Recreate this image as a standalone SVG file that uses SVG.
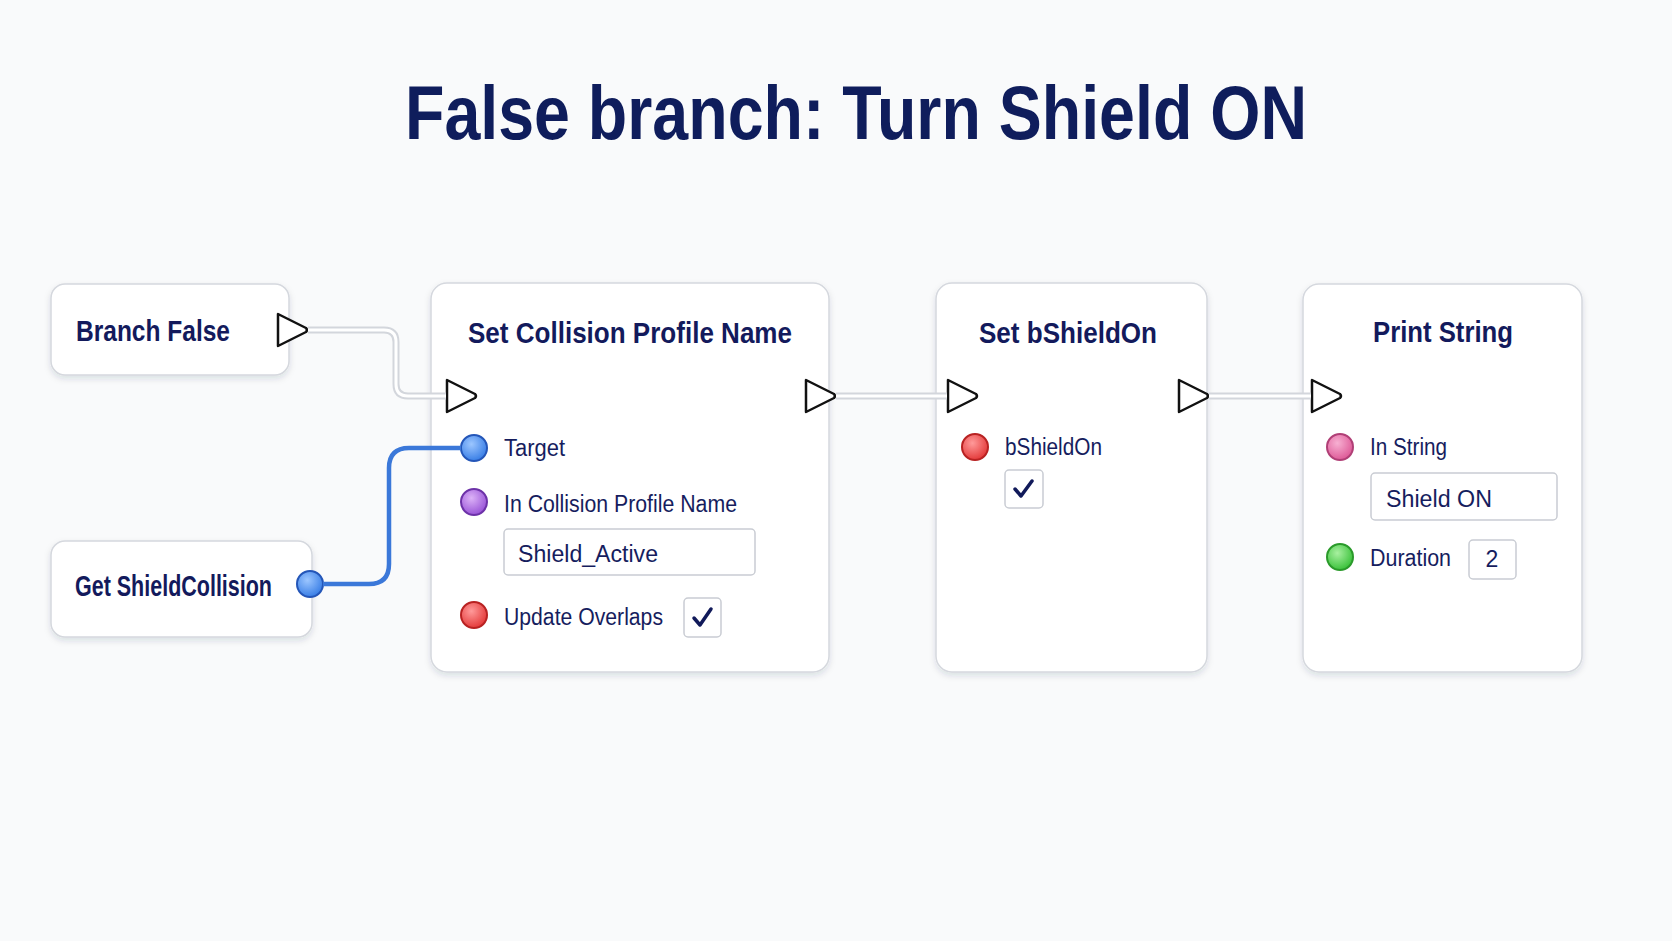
<svg xmlns="http://www.w3.org/2000/svg" width="1672" height="941" viewBox="0 0 1672 941">
<defs>
<style>
.bg{fill:#f9fafb}
.node{fill:#ffffff;stroke:#d5d8de;stroke-width:1.5}
.title{font-family:"Liberation Sans",Arial,sans-serif;font-weight:bold;fill:#0f1d5c}
.ntitle{font-family:"Liberation Sans",Arial,sans-serif;font-weight:bold;font-size:29px;fill:#131a5c}
.lbl{font-family:"Liberation Sans",Arial,sans-serif;font-size:23px;fill:#161d5e}
.field{fill:#ffffff;stroke:#c9ccd3;stroke-width:1.5}
.exec{fill:#ffffff;stroke:#111111;stroke-width:2.5;stroke-linejoin:round}
.wireo{fill:none;stroke:#d3d6dc;stroke-width:7;stroke-linecap:butt;stroke-linejoin:round}
.wirei{fill:none;stroke:#ffffff;stroke-width:3;stroke-linecap:butt;stroke-linejoin:round}
.bwire{fill:none;stroke:#3b78d9;stroke-width:4.5;stroke-linecap:butt;stroke-linejoin:round}
.check{fill:none;stroke:#111a5a;stroke-width:3.5;stroke-linecap:round;stroke-linejoin:round}
</style>
<filter id="sh" x="-10%" y="-10%" width="120%" height="125%">
<feDropShadow dx="0" dy="3" stdDeviation="3" flood-color="#1a2040" flood-opacity="0.13"/>
</filter>
<radialGradient id="gBlue" cx="40%" cy="35%" r="65%"><stop offset="0" stop-color="#9cc6ff"/><stop offset="1" stop-color="#3a7fe6"/></radialGradient>
<radialGradient id="gPurple" cx="40%" cy="35%" r="65%"><stop offset="0" stop-color="#dcb2f7"/><stop offset="1" stop-color="#9a55d8"/></radialGradient>
<radialGradient id="gRed" cx="40%" cy="35%" r="65%"><stop offset="0" stop-color="#ff9a9a"/><stop offset="1" stop-color="#e43b3b"/></radialGradient>
<radialGradient id="gPink" cx="40%" cy="35%" r="65%"><stop offset="0" stop-color="#f7b0d2"/><stop offset="1" stop-color="#de5b98"/></radialGradient>
<radialGradient id="gGreen" cx="40%" cy="35%" r="65%"><stop offset="0" stop-color="#a8f0a0"/><stop offset="1" stop-color="#3cc23c"/></radialGradient>
<path id="execTri" d="M0,-16 L0,16 L28,2 Q30,0 28,-2 Z"/>
</defs>
<rect class="bg" x="0" y="0" width="1672" height="941"/>
<text class="title" x="856" y="139" font-size="76" text-anchor="middle" textLength="902" lengthAdjust="spacingAndGlyphs">False branch: Turn Shield ON</text>

<g id="branch-false">
<rect class="node" filter="url(#sh)" x="51" y="284" width="238" height="91" rx="14"/>
<text class="ntitle" x="76" y="341" textLength="154" lengthAdjust="spacingAndGlyphs">Branch False</text>
<use href="#execTri" class="exec" x="278" y="330"/>
</g>

<g id="get-shieldcollision">
<rect class="node" filter="url(#sh)" x="51" y="541" width="261" height="96" rx="14"/>
<text class="ntitle" x="75" y="596" textLength="197" lengthAdjust="spacingAndGlyphs">Get ShieldCollision</text>
<circle cx="310" cy="584" r="13" fill="url(#gBlue)" stroke="#2456b8" stroke-width="2"/>
</g>

<g id="set-collision-profile-name">
<rect class="node" filter="url(#sh)" x="431" y="283" width="398" height="389" rx="16"/>
<text class="ntitle" x="468" y="343" textLength="324" lengthAdjust="spacingAndGlyphs">Set Collision Profile Name</text>
<use href="#execTri" class="exec" x="447" y="396"/>
<use href="#execTri" class="exec" x="806" y="396"/>
<circle cx="474" cy="448" r="13" fill="url(#gBlue)" stroke="#2456b8" stroke-width="2"/>
<text class="lbl" x="504" y="456" textLength="61" lengthAdjust="spacingAndGlyphs">Target</text>
<circle cx="474" cy="502" r="13" fill="url(#gPurple)" stroke="#6d32a8" stroke-width="2"/>
<text class="lbl" x="504" y="512" textLength="233" lengthAdjust="spacingAndGlyphs">In Collision Profile Name</text>
<rect class="field" x="504" y="529" width="251" height="46" rx="4"/>
<text class="lbl" x="518" y="562" textLength="140" lengthAdjust="spacingAndGlyphs">Shield_Active</text>
<circle cx="474" cy="615" r="13" fill="url(#gRed)" stroke="#b82222" stroke-width="2"/>
<text class="lbl" x="504" y="625" textLength="159" lengthAdjust="spacingAndGlyphs">Update Overlaps</text>
<rect class="field" x="684" y="598" width="37" height="39" rx="4"/>
<path class="check" d="M694,618 L700,625 L711,609"/>
</g>

<g id="set-bshieldon">
<rect class="node" filter="url(#sh)" x="936" y="283" width="271" height="389" rx="16"/>
<text class="ntitle" x="979" y="343" textLength="178" lengthAdjust="spacingAndGlyphs">Set bShieldOn</text>
<use href="#execTri" class="exec" x="948" y="396"/>
<use href="#execTri" class="exec" x="1179" y="396"/>
<circle cx="975" cy="447" r="13" fill="url(#gRed)" stroke="#b82222" stroke-width="2"/>
<text class="lbl" x="1005" y="455" textLength="97" lengthAdjust="spacingAndGlyphs">bShieldOn</text>
<rect class="field" x="1005" y="470" width="38" height="38" rx="4"/>
<path class="check" d="M1015,489 L1021,496 L1032,481"/>
</g>

<g id="print-string">
<rect class="node" filter="url(#sh)" x="1303" y="284" width="279" height="388" rx="16"/>
<text class="ntitle" x="1373" y="342" textLength="140" lengthAdjust="spacingAndGlyphs">Print String</text>
<use href="#execTri" class="exec" x="1312" y="396"/>
<circle cx="1340" cy="447" r="13" fill="url(#gPink)" stroke="#b03f76" stroke-width="2"/>
<text class="lbl" x="1370" y="455" textLength="77" lengthAdjust="spacingAndGlyphs">In String</text>
<rect class="field" x="1371" y="473" width="186" height="47" rx="4"/>
<text class="lbl" x="1386" y="507" textLength="106" lengthAdjust="spacingAndGlyphs">Shield ON</text>
<circle cx="1340" cy="557" r="13" fill="url(#gGreen)" stroke="#2a9a2a" stroke-width="2"/>
<text class="lbl" x="1370" y="566" textLength="81" lengthAdjust="spacingAndGlyphs">Duration</text>
<rect class="field" x="1469" y="540" width="47" height="39" rx="4"/>
<text class="lbl" x="1492" y="567" text-anchor="middle">2</text>
</g>

<g id="connectors">
<path class="wireo" d="M308,330 H384 Q396,330 396,342 V384 Q396,396 408,396 H446"/>
<path class="wirei" d="M308,330 H384 Q396,330 396,342 V384 Q396,396 408,396 H446"/>
<path class="wireo" d="M836,396 H947"/>
<path class="wirei" d="M836,396 H947"/>
<path class="wireo" d="M1209,396 H1311"/>
<path class="wirei" d="M1209,396 H1311"/>
<path class="bwire" d="M323,584 H369 Q389,584 389,564 V468 Q389,448 409,448 H461"/>
</g>
</svg>
